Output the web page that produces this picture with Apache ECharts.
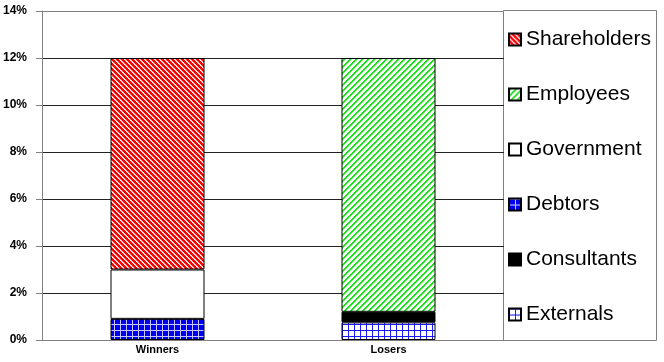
<!DOCTYPE html>
<html><head><meta charset="utf-8">
<script src="https://cdn.jsdelivr.net/npm/echarts@6/dist/echarts.min.js"></script>
<style>html,body{margin:0;padding:0;background:#fff}#c{width:664px;height:362px}</style>
</head><body><div id="c"></div>
<script>
const categories = ['Winners', 'Losers'];
const shareholders = [9.0, null];
const employees = [null, 10.8];
const government = [2.1, null];
const debtors = [0.9, null];
const consultants = [null, 0.45];
const externals = [null, 0.75];
const yTicks = [0, 2, 4, 6, 8, 10, 12, 14];

function tile(size, draw) {
  const c = document.createElement('canvas');
  c.width = size; c.height = size;
  const g = c.getContext('2d');
  draw(g, size);
  return { image: c, repeat: 'repeat' };
}
const redPat = tile(5, (g, n) => {
  g.fillStyle = '#ff0000'; g.fillRect(0, 0, n, n);
  for (let x = 0; x < n; x++) for (let y = 0; y < n; y++) {
    const m = ((x - y) % n + n) % n;
    if (m === 0) { g.fillStyle = '#ffffff'; g.fillRect(x, y, 1, 1); }
    else if (m === 1) { g.fillStyle = '#ffb4b4'; g.fillRect(x, y, 1, 1); }
  }
});
const greenPat = tile(6, (g, n) => {
  g.fillStyle = '#ffffff'; g.fillRect(0, 0, n, n);
  for (let x = 0; x < n; x++) for (let y = 0; y < n; y++) {
    const m = (x + y) % n;
    if (m === 0 || m === 1) { g.fillStyle = '#22dd22'; g.fillRect(x, y, 1, 1); }
    else if (m === 2) { g.fillStyle = '#88ee88'; g.fillRect(x, y, 1, 1); }
  }
});
const bluePat = tile(6, (g, n) => {
  g.fillStyle = '#0000ee'; g.fillRect(0, 0, n, n);
  g.fillStyle = '#c8c8ff'; g.fillRect(0, 0, n, 1); g.fillRect(0, 0, 1, n);
});
const extPat = tile(6, (g, n) => {
  g.fillStyle = '#ffffff'; g.fillRect(0, 0, n, n);
  g.fillStyle = '#1a1aff'; g.fillRect(0, 0, n, 1); g.fillRect(0, 0, 1, n);
});

function s(name, data, color) {
  return {
    name, type: 'bar', stack: 'all', data, barWidth: 94,
    itemStyle: { color, borderColor: '#000', borderWidth: 1 },
    emphasis: { disabled: true }
  };
}

const chart = echarts.init(document.getElementById('c'), null, { renderer: 'canvas' });
chart.setOption({
  animation: false,
  backgroundColor: '#fff',
  grid: { left: 37, right: 160, top: 11, bottom: 22, containLabel: false },
  xAxis: {
    type: 'category', data: categories,
    axisLine: { lineStyle: { color: '#808080' } },
    axisTick: { show: false },
    axisLabel: { fontFamily: 'Liberation Sans', fontWeight: 'bold', fontSize: 11, color: '#000', margin: 4 }
  },
  yAxis: {
    type: 'value', min: yTicks[0], max: yTicks[yTicks.length - 1], interval: 2,
    axisLine: { show: true, lineStyle: { color: '#808080' } },
    axisTick: { show: true, length: 6, lineStyle: { color: '#808080' } },
    axisLabel: { formatter: '{value}%', fontFamily: 'Liberation Sans', fontWeight: 'bold', fontSize: 12, color: '#000', margin: 15 },
    splitLine: { show: true, lineStyle: { color: ['#808080', '#222', '#222', '#222', '#222', '#222', '#222', '#808080'] } }
  },
  legend: {
    orient: 'vertical', left: 508, top: 29, padding: 0, itemGap: 34,
    itemWidth: 12, itemHeight: 12, icon: 'rect',
    data: ['Shareholders', 'Employees', 'Government', 'Debtors', 'Consultants', 'Externals'],
    textStyle: { fontFamily: 'Liberation Sans', fontSize: 21, color: '#000', lineHeight: 20 },
    selectedMode: false
  },
  graphic: [{
    type: 'rect', z: -1, left: 503, top: 10,
    shape: { width: 153, height: 330 },
    style: { fill: '#fff', stroke: '#808080', lineWidth: 1 }
  }],
  series: [
    s('Debtors', debtors, bluePat),
    s('Externals', externals, extPat),
    s('Consultants', consultants, '#000'),
    s('Government', government, '#fff'),
    s('Employees', employees, greenPat),
    s('Shareholders', shareholders, redPat)
  ]
});
</script></body></html>
